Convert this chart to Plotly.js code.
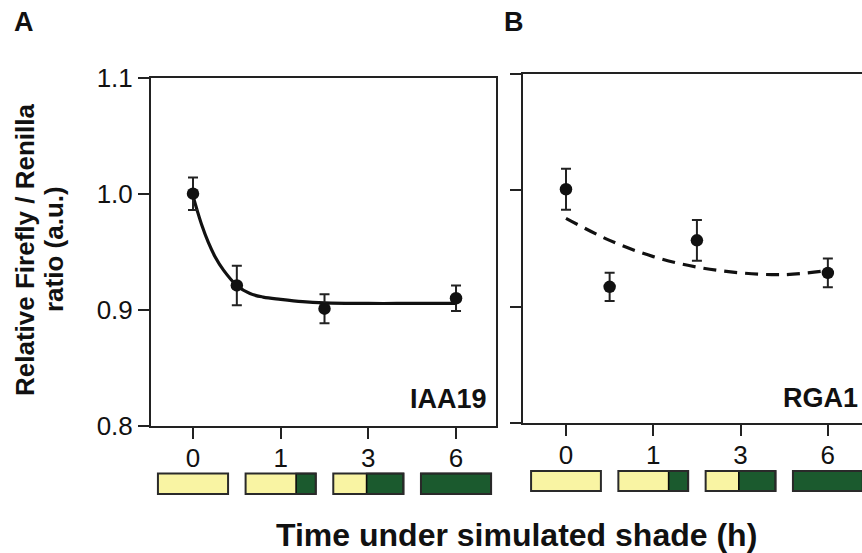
<!DOCTYPE html>
<html>
<head>
<meta charset="utf-8">
<script src="https://cdn.plot.ly/plotly-3.0.1.min.js"></script>
<style>
html, body { margin: 0; padding: 0; overflow: hidden; background: #fff; }
#chart { width: 880px; height: 553px; }
</style>
</head>
<body>
<div id="chart"></div>
<script>
// ---- data ----
var tickPos = [0, 1, 2, 3];
var tickLabels = ['0', '1', '3', '6'];
var yTickVals = [0.8, 0.9, 1.0, 1.1];
var yTickText = ['0.8', '0.9', '1.0', '1.1'];

// Panel A (IAA19)
var xA = [0, 0.5, 1.5, 3];
var yA = [1.000, 0.921, 0.901, 0.910];
var errA = [0.014, 0.017, 0.0125, 0.011];
var fitXA = [0, 0.05, 0.1, 0.175, 0.25, 0.35, 0.5, 0.65, 0.8, 1.0, 1.25, 1.5, 2, 2.5, 3];
var fitYA = [0.998, 0.985, 0.973, 0.958, 0.946, 0.934, 0.921, 0.914, 0.911, 0.909, 0.907, 0.906, 0.9055, 0.9055, 0.9055];

// Panel B (RGA1)
var xB = [0, 0.5, 1.5, 3];
var yB = [1.001, 0.917, 0.957, 0.929];
var errB = [0.0177, 0.0122, 0.0176, 0.0123];
var fitXB = [0, 0.5, 1, 1.5, 2, 2.5, 3];
var fitYB = [0.976, 0.957, 0.943, 0.934, 0.929, 0.9275, 0.931];

// light (yellow) share of each condition box
var lightShare = [1, 0.72, 0.475, 0];

// ---- styles ----
var FONT = 'Liberation Sans, Arial, Helvetica, sans-serif';
var W = 880, H = 553;
var px = function (v) { return v / W; };
var py = function (v) { return 1 - v / H; };
var YELLOW = '#F9F4A3', GREEN = '#1B5A2E', INK = '#111';

function pointsTrace(x, y, e, xa, ya) {
  return {
    x: x, y: y, xaxis: xa, yaxis: ya, type: 'scatter', mode: 'markers',
    marker: { color: INK, size: 12.5 },
    error_y: { type: 'data', array: e, visible: true, color: '#222', thickness: 2, width: 5 },
    showlegend: false, hoverinfo: 'skip'
  };
}
function fitTrace(x, y, xa, ya, dash) {
  return {
    x: x, y: y, xaxis: xa, yaxis: ya, type: 'scatter', mode: 'lines',
    line: { color: INK, width: 3.2, shape: 'spline', smoothing: 1, dash: dash },
    showlegend: false, hoverinfo: 'skip'
  };
}

var data = [
  fitTrace(fitXA, fitYA, 'x', 'y', 'solid'),
  fitTrace(fitXB, fitYB, 'x2', 'y2', '13px,8px'),
  pointsTrace(xA, yA, errA, 'x', 'y'),
  pointsTrace(xB, yB, errB, 'x2', 'y2')
];

function xAxis(domain, range, anchor) {
  return {
    domain: domain, range: range, anchor: anchor,
    tickmode: 'array', tickvals: tickPos, ticktext: tickLabels,
    ticks: 'outside', ticklen: 11, tickwidth: 2, tickcolor: '#222',
    ticklabelstandoff: -3,
    showline: true, mirror: true, linecolor: '#222', linewidth: 2,
    showgrid: false, zeroline: false, fixedrange: true,
    tickfont: { family: FONT, size: 26, color: '#111' }
  };
}
function yAxis(domain, anchor, labels) {
  return {
    domain: domain, range: [0.8, 1.1], anchor: anchor,
    tickmode: 'array', tickvals: yTickVals, ticktext: yTickText,
    showticklabels: labels,
    ticks: 'outside', ticklen: 11, tickwidth: 2, tickcolor: '#222',
    showline: true, mirror: true, linecolor: '#222', linewidth: 2,
    showgrid: false, zeroline: false, fixedrange: true,
    tickfont: { family: FONT, size: 26, color: '#111' }
  };
}

// condition boxes under each panel
var shapes = [];
function addBoxes(xref, y0, y1) {
  for (var i = 0; i < tickPos.length; i++) {
    var x0 = tickPos[i] - 0.4, x1 = tickPos[i] + 0.4;
    var split = x0 + 0.8 * lightShare[i];
    if (lightShare[i] > 0) {
      shapes.push({ type: 'rect', xref: xref, yref: 'paper', x0: x0, x1: split, y0: y0, y1: y1,
        fillcolor: YELLOW, line: { width: 0 } });
    }
    if (lightShare[i] < 1) {
      shapes.push({ type: 'rect', xref: xref, yref: 'paper', x0: split, x1: x1, y0: y0, y1: y1,
        fillcolor: GREEN, line: { color: '#0a0a0a', width: 1.6 } });
    }
    shapes.push({ type: 'rect', xref: xref, yref: 'paper', x0: x0, x1: x1, y0: y0, y1: y1,
      fillcolor: 'rgba(0,0,0,0)', line: { color: '#2a2a2a', width: 2 } });
  }
}
addBoxes('x', py(494), py(473.5));
addBoxes('x2', py(491), py(471));

var bold = function (size) {
  return { family: FONT, size: size, color: '#111', weight: 'bold' };
};

var annotations = [
  { text: '<b>A</b>', xref: 'paper', yref: 'paper', x: px(23.5), y: py(22), xanchor: 'center', yanchor: 'middle',
    showarrow: false, font: bold(27) },
  { text: '<b>B</b>', xref: 'paper', yref: 'paper', x: px(514), y: py(22), xanchor: 'center', yanchor: 'middle',
    showarrow: false, font: bold(27) },
  { text: '<b>IAA19</b>', xref: 'paper', yref: 'paper', x: px(489), y: py(399), xanchor: 'right', yanchor: 'middle',
    showarrow: false, font: bold(27) },
  { text: '<b>RGA1</b>', xref: 'paper', yref: 'paper', x: px(860), y: py(398), xanchor: 'right', yanchor: 'middle',
    showarrow: false, font: bold(27) },
  { text: '<b>Relative Firefly / Renilla</b>', xref: 'paper', yref: 'paper', x: px(25), y: py(250),
    xanchor: 'center', yanchor: 'middle', textangle: -90, showarrow: false, font: bold(26) },
  { text: '<b>ratio (a.u.)</b>', xref: 'paper', yref: 'paper', x: px(54), y: py(249),
    xanchor: 'center', yanchor: 'middle', textangle: -90, showarrow: false, font: bold(26) },
  { text: '<b>Time under simulated shade (h)</b>', xref: 'paper', yref: 'paper', x: px(516.5), y: py(535),
    xanchor: 'center', yanchor: 'middle', showarrow: false, font: bold(32) }
];

var layout = {
  width: W, height: H,
  margin: { l: 0, r: 0, t: 0, b: 0, pad: 0 },
  paper_bgcolor: '#fff', plot_bgcolor: '#fff',
  font: { family: FONT, color: '#111' },
  xaxis: xAxis([px(151), px(496)], [-0.479, 3.456], 'y'),
  yaxis: yAxis([py(426), py(77.5)], 'x', true),
  xaxis2: xAxis([px(522.7), px(868)], [-0.496, 3.46], 'y2'),
  yaxis2: yAxis([py(422.7), py(74.3)], 'x2', false),
  shapes: shapes,
  annotations: annotations,
  showlegend: false
};

Plotly.newPlot('chart', data, layout, { displayModeBar: false, staticPlot: true });
</script>
</body>
</html>
